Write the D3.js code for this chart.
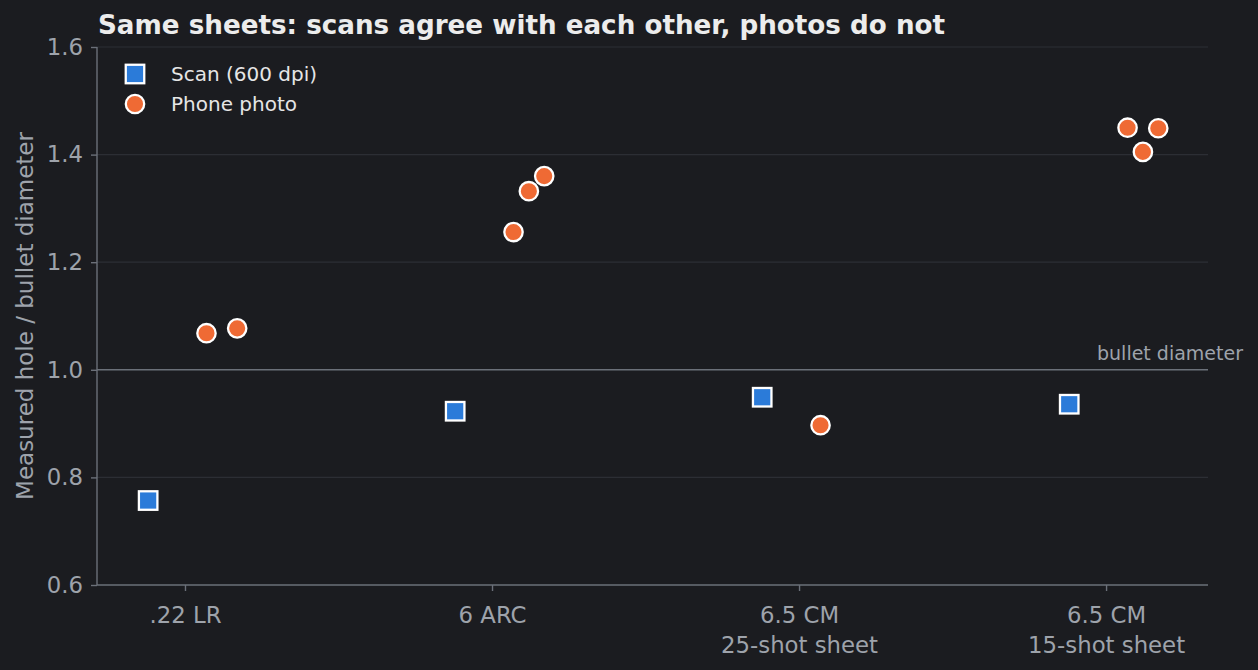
<!DOCTYPE html>
<html>
<head>
<meta charset="utf-8">
<script src="https://cdn.jsdelivr.net/npm/d3@7"></script>
<style>
  html, body { margin: 0; padding: 0; background: #1b1c20; }
  svg { display: block; font-family: "DejaVu Sans", sans-serif; }
  .grid line { stroke: #2c2e34; stroke-width: 1.2; }
  .axis path, .axis line { stroke: #6b7079; stroke-width: 1.4; }
  .axis text { fill: #9ea3ab; font-size: 22.8px; font-family: "DejaVu Sans", sans-serif; }
</style>
</head>
<body>
<svg id="chart" width="1258" height="670"></svg>
<script>
// categories along the x axis (two-line labels)
var categories = [".22 LR", "6 ARC", "6.5 CM|25-shot sheet", "6.5 CM|15-shot sheet"];
// one scan measurement per sheet
var scanValues = [0.757, 0.923, 0.949, 0.936];
// phone photo measurements per sheet
var photoValues = [
    [1.068, 1.077],
    [1.256, 1.332, 1.360],
    [0.897],
    [1.450, 1.405, 1.449]
];
var yTicks = [0.6, 0.8, 1.0, 1.2, 1.4, 1.6];
var gridTicks = [0.8, 1.2, 1.4, 1.6];
var refValue = 1.0;

var margin = {top: 47, right: 50, bottom: 85, left: 97},
    width = 1258 - margin.left - margin.right,
    height = 670 - margin.top - margin.bottom;

var svg = d3.select("#chart");
var g = svg.append("g")
    .attr("transform", "translate(" + margin.left + "," + margin.top + ")");

var x = d3.scaleLinear().domain([-0.2866, 3.332]).range([0, width]);
var y = d3.scaleLinear().domain([0.6, 1.6]).range([height, 0]);

// gridlines
g.append("g").attr("class", "grid")
    .selectAll("line").data(gridTicks).enter().append("line")
    .attr("x1", 0).attr("x2", width)
    .attr("y1", function(d) { return y(d); })
    .attr("y2", function(d) { return y(d); });

// reference line at 1.0
g.append("line")
    .attr("x1", 0).attr("x2", width)
    .attr("y1", y(refValue)).attr("y2", y(refValue))
    .attr("stroke", "#6b7079").attr("stroke-width", 1.6);
g.append("text")
    .attr("x", width + 35).attr("y", y(refValue) - 10)
    .attr("text-anchor", "end")
    .attr("fill", "#9ea3ab").style("font-size", "19px")
    .text("bullet diameter");

// axes
var yAxis = g.append("g").attr("class", "axis")
    .call(d3.axisLeft(y).tickValues(yTicks).tickFormat(d3.format(".1f")).tickSize(6).tickPadding(8));
yAxis.select(".domain").attr("d", "M0," + height + "V0");

var xAxis = g.append("g").attr("class", "axis")
    .attr("transform", "translate(0," + height + ")")
    .call(d3.axisBottom(x).tickValues(d3.range(categories.length)).tickSize(6).tickPadding(8).tickFormat(""));
xAxis.select(".domain").attr("d", "M0,0H" + width);
xAxis.selectAll(".tick").each(function(d) {
    var t = d3.select(this).select("text").text(null).attr("y", 0).attr("dy", null);
    categories[d].split("|").forEach(function(line, i) {
        t.append("tspan").attr("x", 0).attr("y", 38 + i * 30).text(line);
    });
});

// scan markers
var sq = 18.5, r = 9.2;
g.selectAll(".scan").data(scanValues).enter().append("rect")
    .attr("class", "scan")
    .attr("x", function(d, i) { return x(i - 0.12) - sq / 2; })
    .attr("y", function(d) { return y(d) - sq / 2; })
    .attr("width", sq).attr("height", sq)
    .attr("fill", "#2b7bd9").attr("stroke", "#ffffff").attr("stroke-width", 2.3);

// photo markers, spread to the right of each category
var photos = [];
photoValues.forEach(function(vals, i) {
    vals.forEach(function(v, j) {
        var off = vals.length > 1 ? 0.07 + 0.10 * j / (vals.length - 1) : 0.07;
        photos.push({pos: i + off, value: v});
    });
});
g.selectAll(".photo").data(photos).enter().append("circle")
    .attr("class", "photo")
    .attr("cx", function(d) { return x(d.pos); })
    .attr("cy", function(d) { return y(d.value); })
    .attr("r", r)
    .attr("fill", "#ef6a34").attr("stroke", "#ffffff").attr("stroke-width", 2.3);

// title
svg.append("text")
    .attr("x", 98).attr("y", 34)
    .attr("fill", "#ececec").style("font-size", "26.2px").style("font-weight", "bold")
    .text("Same sheets: scans agree with each other, photos do not");

// y label
svg.append("text")
    .attr("transform", "translate(33," + (margin.top + height / 2) + ") rotate(-90)")
    .attr("text-anchor", "middle")
    .attr("fill", "#9ea3ab").style("font-size", "23px")
    .text("Measured hole / bullet diameter");

// legend
var legend = svg.append("g").attr("transform", "translate(135,74)");
legend.append("rect").attr("x", -sq / 2).attr("y", -sq / 2).attr("width", sq).attr("height", sq)
    .attr("fill", "#2b7bd9").attr("stroke", "#ffffff").attr("stroke-width", 2.3);
legend.append("circle").attr("cx", 0).attr("cy", 30).attr("r", r)
    .attr("fill", "#ef6a34").attr("stroke", "#ffffff").attr("stroke-width", 2.3);
legend.append("text").attr("x", 36).attr("y", 7).attr("fill", "#e6e6e6").style("font-size", "20px")
    .text("Scan (600 dpi)");
legend.append("text").attr("x", 36).attr("y", 37).attr("fill", "#e6e6e6").style("font-size", "20px")
    .text("Phone photo");
</script>
</body>
</html>
